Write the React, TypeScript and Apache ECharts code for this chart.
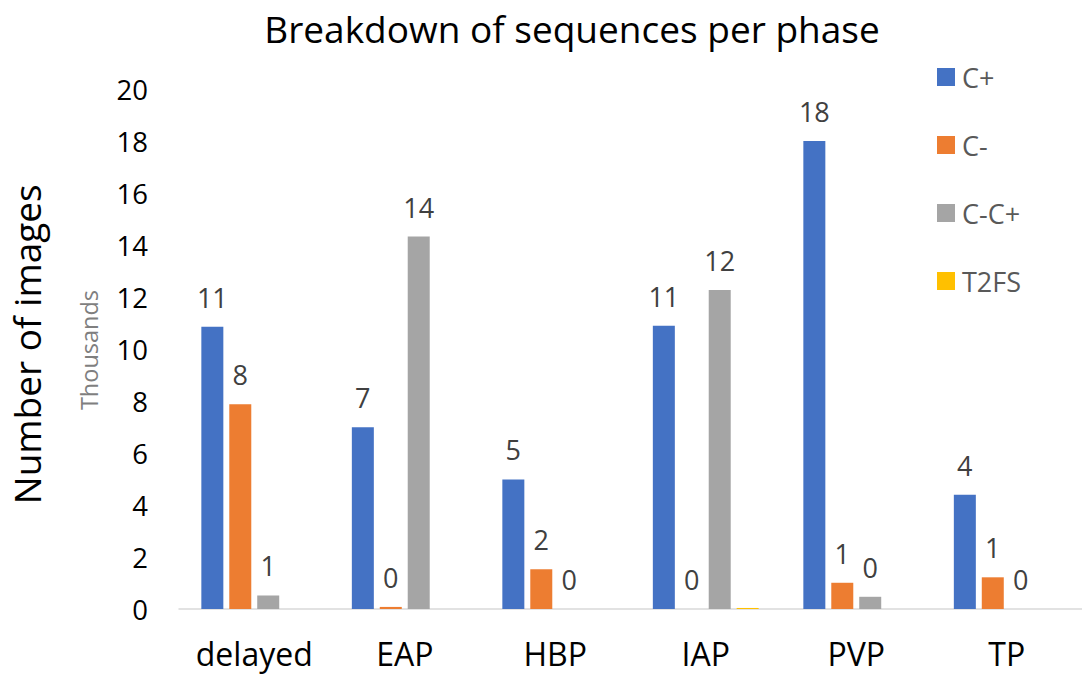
import React, { useEffect, useRef } from "react";
import * as echarts from "echarts";

// Phases on the category axis
const phases = ["delayed", "EAP", "HBP", "IAP", "PVP", "TP"];

// Number of images per sequence type and phase
const seriesNames = ["C+", "C-", "C-C+", "T2FS"];
const cPlus = [10870, 7000, 4990, 10900, 18020, 4400];
const cMinus = [7880, 80, 1530, 0, 1010, 1220];
const cMinusCPlus = [520, 14340, 0, 12280, 470, 0];
const t2fs = [0, 0, 0, 40, 0, 0];

const colors = ["#4472C4", "#ED7D31", "#A5A5A5", "#FFC000"];

const FONT = "'Open Sans', 'Noto Sans', sans-serif";

export default function App() {
  const ref = useRef<HTMLDivElement>(null);

  useEffect(() => {
    if (!ref.current) return;
    const chart = echarts.init(ref.current, undefined, { renderer: "svg" });

    const values = [cPlus, cMinus, cMinusCPlus, t2fs];

    const series = seriesNames.map((name, i) => ({
      name,
      type: "bar",
      data: values[i],
      barWidth: 22,
      barGap: "27%",
      itemStyle: { color: colors[i] },
      label: {
        show: name !== "T2FS",
        position: "top",
        distance: 16,
        color: "#404040",
        fontFamily: FONT,
        fontSize: 27,
        lineHeight: 27,
        formatter: (p: any) => String(Math.round(p.value / 1000)),
      },
    }));

    chart.setOption({
      animation: false,
      backgroundColor: "#ffffff",
      title: {
        text: "Breakdown of sequences per phase",
        left: 567,
        top: 5,
        textAlign: "center",
        textStyle: {
          fontFamily: FONT,
          fontSize: 37,
          fontWeight: "normal",
          color: "#000000",
        },
      },
      legend: {
        orient: "vertical",
        left: 932,
        top: 58,
        itemWidth: 18,
        itemHeight: 18,
        itemGap: 40,
        icon: "rect",
        textStyle: {
          fontFamily: FONT,
          fontSize: 27,
          lineHeight: 28,
          color: "#595959",
          padding: [0, 0, 0, 2],
        },
        data: seriesNames,
      },
      grid: {
        left: 176,
        top: 89.5,
        width: 912,
        bottom: 68,
        containLabel: false,
      },
      xAxis: {
        type: "category",
        data: phases,
        axisLine: { lineStyle: { color: "#D9D9D9", width: 1.5 } },
        axisTick: { show: false },
        axisLabel: {
          interval: 0,
          margin: 28,
          fontFamily: FONT,
          fontSize: 32,
          color: "#000000",
        },
      },
      yAxis: {
        type: "value",
        min: 0,
        max: 20000,
        interval: 2000,
        name: "Number of images",
        nameLocation: "middle",
        nameRotate: 90,
        nameGap: 134,
        nameTextStyle: {
          fontFamily: FONT,
          fontSize: 37,
          color: "#000000",
          padding: [0, 0, 0, 10],
        },
        axisLine: { show: false },
        axisTick: { show: false },
        splitLine: { show: false },
        axisLabel: {
          margin: 31,
          fontFamily: FONT,
          fontSize: 27.5,
          color: "#000000",
          formatter: (v: number) => String(v / 1000),
        },
      },
      graphic: [
        {
          type: "text",
          x: 89,
          y: 350,
          rotation: Math.PI / 2,
          style: {
            text: "Thousands",
            fontFamily: FONT,
            fontSize: 23.5,
            fill: "#7F7F7F",
            align: "center",
            verticalAlign: "middle",
          },
        },
      ],
      series,
    });

    return () => chart.dispose();
  }, []);

  return (
    <div
      ref={ref}
      style={{ position: "fixed", left: 0, top: 0, width: 1082, height: 677 }}
    />
  );
}
